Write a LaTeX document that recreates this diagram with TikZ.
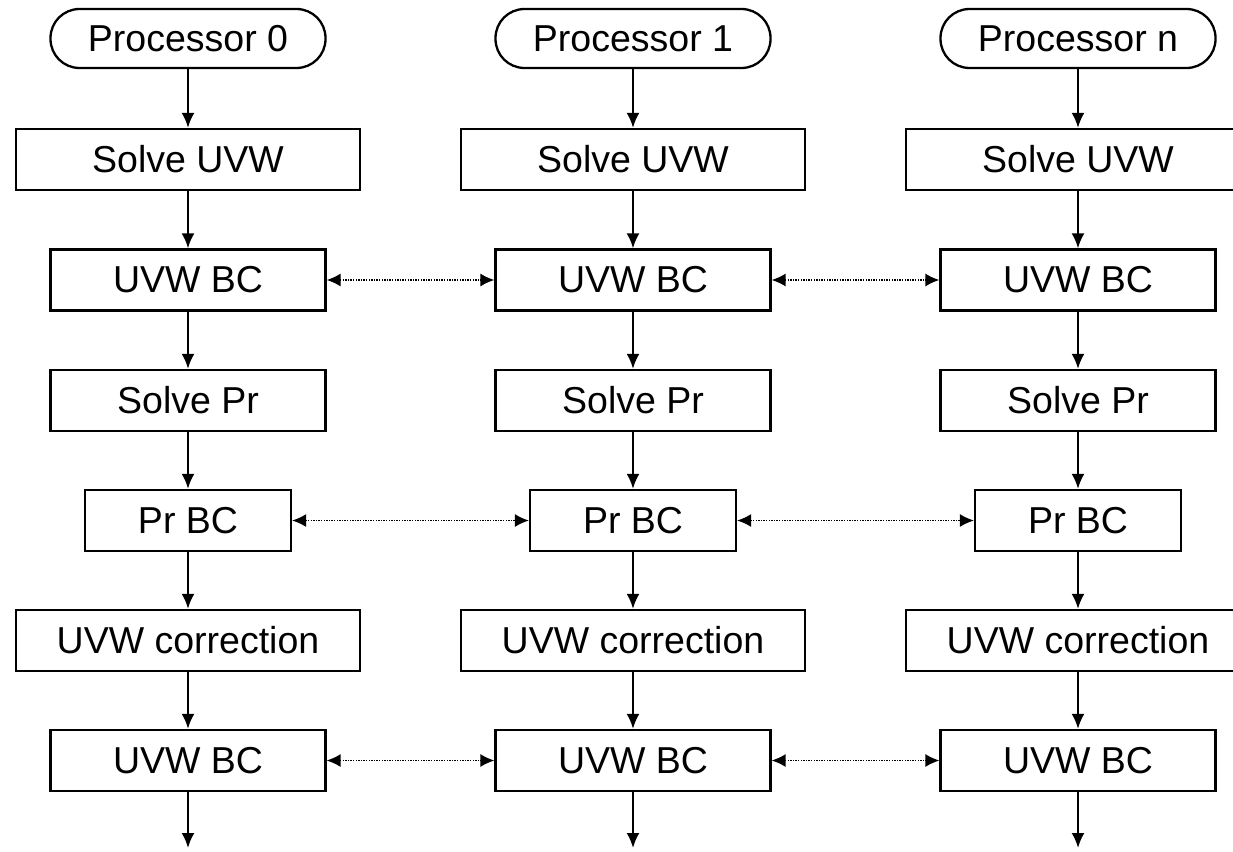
\documentclass[tikz,border=0pt]{standalone}
\usepackage{fontspec}
\setmainfont{Liberation Sans}
\usetikzlibrary{arrows.meta}
\begin{document}
\begin{tikzpicture}[x=1pt,y=-1pt,
  box/.style={draw,line width=2.3pt,inner sep=0pt,minimum height=61pt,font=\fontsize{37.5}{44}\selectfont},
  proc/.style={box,rounded corners=29pt,minimum width=275pt,minimum height=59pt},
  wide/.style={box,minimum width=344pt},
  mid/.style={box,minimum width=275pt},
  narrow/.style={box,minimum width=206pt},
  flow/.style={line width=2.2pt,-{Latex[length=15pt,width=13pt]}},
  link/.style={line width=1.4pt,dash pattern=on 1.4pt off 1.2pt,{Latex[length=14pt,width=13pt]}-{Latex[length=14pt,width=13pt]}}]
\useasboundingbox (0,0) rectangle (1233,851);
\clip (0,0) rectangle (1233,851);
\foreach \i/\x/\lab in {0/188/Processor 0,1/633/Processor 1,2/1078/Processor n}{
  \node[proc] (p\i) at (\x,38.5) {\lab};
  \node[wide] (s\i) at (\x,159.5) {Solve UVW};
  \node[mid] (ub\i) at (\x,280) {UVW BC};
  \node[mid] (sp\i) at (\x,400.5) {Solve Pr};
  \node[narrow] (pb\i) at (\x,520.5) {Pr BC};
  \node[wide] (uc\i) at (\x,640.5) {UVW correction};
  \node[mid] (ud\i) at (\x,760.5) {UVW BC};
  \coordinate (e\i) at (\x,848);
  \draw[flow] (p\i) -- (s\i);
  \draw[flow] (s\i) -- (ub\i);
  \draw[flow] (ub\i) -- (sp\i);
  \draw[flow] (sp\i) -- (pb\i);
  \draw[flow] (pb\i) -- (uc\i);
  \draw[flow] (uc\i) -- (ud\i);
  \draw[flow] (ud\i) -- (e\i);
}
\foreach \a/\b in {0/1,1/2}{
  \draw[link] (ub\a) -- (ub\b);
  \draw[link] (pb\a) -- (pb\b);
  \draw[link] (ud\a) -- (ud\b);
}
\end{tikzpicture}
\end{document}
